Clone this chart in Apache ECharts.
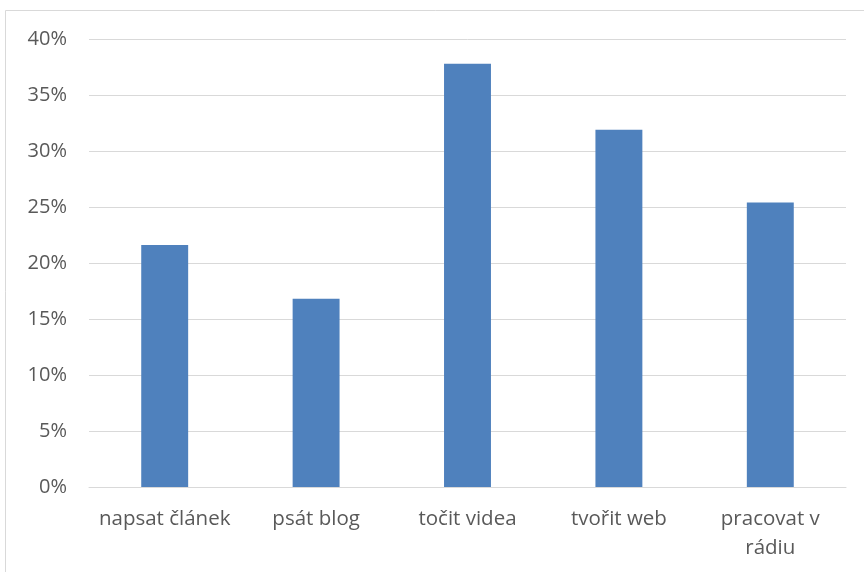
<!DOCTYPE html>
<html>
<head>
<meta charset="utf-8">
<script src="https://cdn.jsdelivr.net/npm/echarts@6/dist/echarts.min.js"></script>
<style>
  html, body { margin: 0; padding: 0; background: #ffffff; }
  #chart { width: 864px; height: 572px; }
</style>
</head>
<body>
<div id="chart"></div>
<script>
// Activity categories and the share of respondents choosing each (percent)
const categories = ['napsat článek', 'psát blog', 'točit videa', 'tvořit web', 'pracovat v rádiu'];
const shares = [21.6, 16.8, 37.8, 31.9, 25.4];

// Value axis range and tick step (percent)
const yMin = 0;
const yMax = 40;
const yStep = 5;

const chart = echarts.init(document.getElementById('chart'), null, { renderer: 'canvas' });

const labelFont = '"Open Sans", "Noto Sans", sans-serif';
const textColor = '#595959';

chart.setOption({
  animation: false,
  backgroundColor: '#ffffff',
  graphic: [{
    type: 'rect',
    shape: { x: 5.5, y: 10.5, width: 900, height: 620 },
    style: { fill: 'none', stroke: '#d9d9d9', lineWidth: 1 },
    silent: true,
    z: -1
  }],
  grid: { left: 89, right: 18, top: 39, bottom: 85, containLabel: false },
  xAxis: {
    type: 'category',
    data: categories,
    axisLine: { show: true, lineStyle: { color: '#d9d9d9', width: 1 } },
    axisTick: { show: false },
    axisLabel: {
      interval: 0,
      color: textColor,
      fontFamily: labelFont,
      fontSize: 20.5,
      lineHeight: 29,
      margin: 18,
      formatter: function (v) {
        return v.length > 14 ? v.replace(/ (\S+)$/, '\n$1') : v;
      }
    }
  },
  yAxis: {
    type: 'value',
    min: yMin,
    max: yMax,
    interval: yStep,
    axisLine: { show: false },
    axisTick: { show: false },
    splitLine: { show: true, lineStyle: { color: '#d9d9d9', width: 1 } },
    axisLabel: {
      color: textColor,
      fontFamily: labelFont,
      fontSize: 20,
      margin: 22,
      formatter: function (v) { return v + '%'; }
    }
  },
  series: [{
    type: 'bar',
    data: shares,
    barWidth: '31%',
    itemStyle: { color: '#4f81bd' }
  }]
});
</script>
</body>
</html>
